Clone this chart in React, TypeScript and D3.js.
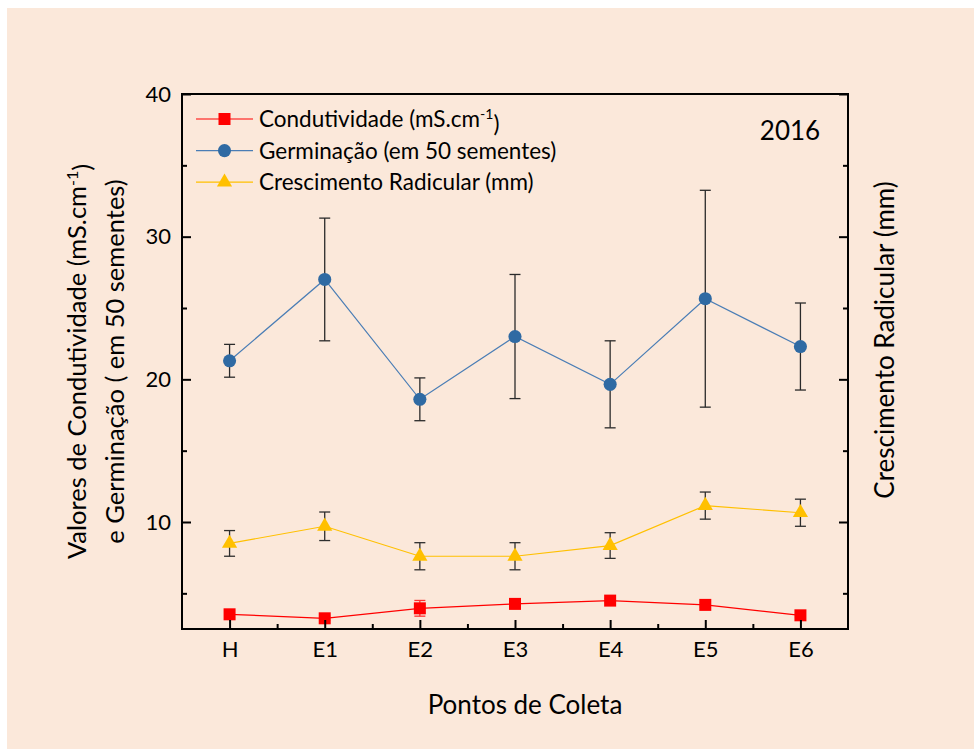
import React, { useEffect, useRef } from 'react';
import * as d3 from 'd3';

// categories and series values
const categories = ['H', 'E1', 'E2', 'E3', 'E4', 'E5', 'E6'];
const conductivity = [3.53, 3.25, 3.95, 4.26, 4.49, 4.19, 3.46];
const conductivityErr = [0.25, 0.15, 0.55, 0.15, 0.15, 0.15, 0.12];
const germination = [21.3, 27.0, 18.6, 23.0, 19.65, 25.65, 22.3];
const germinationErr = [1.15, 4.3, 1.5, 4.35, 3.05, 7.6, 3.05];
const rootGrowth = [8.5, 9.7, 7.6, 7.6, 8.35, 11.15, 10.65];
const rootGrowthErr = [0.9, 1.0, 0.95, 0.95, 0.9, 0.95, 0.95];
const majorTicks = [10, 20, 30, 40];
const minorTicks = [5, 15, 25, 35];

const FONT = 'Lato, "Open Sans", sans-serif';

const App = () => {
  const svgRef = useRef<SVGSVGElement>(null);

  useEffect(() => {
    const svg = d3.select(svgRef.current);
    svg.selectAll('*').remove();

    const left = 182, right = 848, top = 94, bottom = 629;

    svg.append('rect')
      .attr('x', 7).attr('y', 8)
      .attr('width', 974).attr('height', 749)
      .attr('fill', '#FBE8DA');

    const x = d3.scaleLinear().domain([-0.5, categories.length - 0.5]).range([left, right]);
    const y = d3.scaleLinear().domain([2.5, 40]).range([bottom, top]);

    const series = [
      { name: 'rootGrowth', values: rootGrowth, err: rootGrowthErr, color: '#FFC000', line: '#FFC000', errColor: '#2e2e2e', symbol: d3.symbolTriangle, size: 100 },
      { name: 'germination', values: germination, err: germinationErr, color: '#2F6AA3', line: '#4A7DB5', errColor: '#2a2a2a', symbol: d3.symbolCircle, size: 135 },
      { name: 'conductivity', values: conductivity, err: conductivityErr, color: '#FF0000', line: '#FF0000', errColor: '#FF3030', symbol: d3.symbolSquare, size: 144 },
    ];

    const plot = svg.append('g');

    // lines
    series.forEach(s => {
      const line = d3.line<number>()
        .x((_, i) => x(i))
        .y(d => y(d));
      plot.append('path')
        .attr('d', line(s.values))
        .attr('fill', 'none')
        .attr('stroke', s.line)
        .attr('stroke-width', 1.2);
    });

    // error bars
    series.forEach(s => {
      const g = plot.append('g').attr('stroke', s.errColor).attr('stroke-width', 1.3);
      s.values.forEach((v, i) => {
        const cx = x(i);
        const y1 = y(v + s.err[i]);
        const y2 = y(v - s.err[i]);
        g.append('line').attr('x1', cx).attr('x2', cx).attr('y1', y1).attr('y2', y2);
        g.append('line').attr('x1', cx - 5.5).attr('x2', cx + 5.5).attr('y1', y1).attr('y2', y1);
        g.append('line').attr('x1', cx - 5.5).attr('x2', cx + 5.5).attr('y1', y2).attr('y2', y2);
      });
    });

    // markers
    series.forEach(s => {
      plot.append('g').selectAll('path')
        .data(s.values)
        .enter()
        .append('path')
        .attr('d', d3.symbol().type(s.symbol).size(s.size)())
        .attr('transform', (d, i) => `translate(${x(i)},${y(d)})`)
        .attr('fill', s.color);
    });

    // axes
    const axisStyle = (g) => {
      g.select('.domain').remove();
      g.selectAll('.tick line').attr('stroke', '#000').attr('stroke-width', 2);
      g.selectAll('text')
        .attr('fill', '#000')
        .style('font-family', FONT)
        .style('font-size', '22px');
    };

    svg.append('g').attr('transform', `translate(${left},0)`)
      .call(d3.axisLeft(y).tickValues(majorTicks).tickSize(-9).tickPadding(11))
      .call(axisStyle);
    svg.append('g').attr('transform', `translate(${left},0)`)
      .call(d3.axisLeft(y).tickValues(minorTicks).tickSize(-5).tickFormat(() => ''))
      .call(axisStyle);
    svg.append('g').attr('transform', `translate(${right},0)`)
      .call(d3.axisRight(y).tickValues(majorTicks).tickSize(-9).tickFormat(() => ''))
      .call(axisStyle);
    svg.append('g').attr('transform', `translate(${right},0)`)
      .call(d3.axisRight(y).tickValues(minorTicks).tickSize(-5).tickFormat(() => ''))
      .call(axisStyle);
    svg.append('g').attr('transform', `translate(0,${bottom})`)
      .call(d3.axisBottom(x).tickValues(d3.range(categories.length)).tickSize(-9).tickPadding(12)
        .tickFormat(i => categories[i as number]))
      .call(axisStyle);
    svg.append('g').attr('transform', `translate(0,${bottom})`)
      .call(d3.axisBottom(x).tickValues(d3.range(categories.length - 1).map(i => i + 0.5)).tickSize(-5).tickFormat(() => ''))
      .call(axisStyle);

    // frame
    svg.append('rect')
      .attr('x', left).attr('y', top)
      .attr('width', right - left).attr('height', bottom - top)
      .attr('fill', 'none')
      .attr('stroke', '#000')
      .attr('stroke-width', 2);

    // legend
    const legendItems = [
      { s: series[2], label: 'Condutividade (mS.cm', sup: '-1', tail: ')' },
      { s: series[1], label: 'Germinação (em 50 sementes)', sup: '', tail: '' },
      { s: series[0], label: 'Crescimento Radicular (mm)', sup: '', tail: '' },
    ];
    const legend = svg.append('g').attr('transform', 'translate(196,119)');
    legendItems.forEach((item, i) => {
      const row = legend.append('g').attr('transform', `translate(0,${i * 31.6})`);
      row.append('line').attr('x1', 0).attr('x2', 57).attr('y1', 0).attr('y2', 0)
        .attr('stroke', item.s.line).attr('stroke-width', 1.2);
      row.append('path')
        .attr('d', d3.symbol().type(item.s.symbol).size(item.s.size)())
        .attr('transform', 'translate(28.5,0)')
        .attr('fill', item.s.color);
      const t = row.append('text')
        .attr('x', 63).attr('dy', '0.36em')
        .style('font-family', FONT).style('font-size', '22.5px').attr('fill', '#000');
      t.append('tspan').text(item.label);
      if (item.sup) {
        t.append('tspan').attr('dy', '-0.55em').style('font-size', '14px').text(item.sup);
        t.append('tspan').attr('dy', '0.55em').text(item.tail);
      }
    });

    svg.append('text')
      .attr('x', 790).attr('y', 140)
      .attr('text-anchor', 'middle')
      .style('font-family', FONT).style('font-size', '26px')
      .text('2016');

    // axis titles
    svg.append('text')
      .attr('x', 525).attr('y', 714)
      .attr('text-anchor', 'middle')
      .style('font-family', FONT).style('font-size', '26px')
      .text('Pontos de Coleta');

    const yTitle = svg.append('g').attr('transform', `translate(77,${(top + bottom) / 2}) rotate(-90)`);
    const l1 = yTitle.append('text')
      .attr('text-anchor', 'middle').attr('dy', '0.35em')
      .style('font-family', FONT).style('font-size', '25.5px');
    l1.append('tspan').text('Valores de Condutividade (mS.cm');
    l1.append('tspan').attr('dy', '-0.5em').style('font-size', '16px').text('-1');
    l1.append('tspan').attr('dy', '0.5em').text(')');
    yTitle.append('text')
      .attr('y', 38).attr('text-anchor', 'middle').attr('dy', '0.35em')
      .style('font-family', FONT).style('font-size', '25.5px')
      .text('e Germinação ( em 50 sementes)');

    svg.append('text')
      .attr('transform', `translate(885,340) rotate(-90)`)
      .attr('text-anchor', 'middle').attr('dy', '0.35em')
      .style('font-family', FONT).style('font-size', '26px')
      .text('Crescimento Radicular (mm)');
  }, []);

  return (
    <svg
      ref={svgRef}
      width={974}
      height={749}
      style={{ position: 'absolute', left: 0, top: 0, display: 'block' }}
    />
  );
};

export default App;
